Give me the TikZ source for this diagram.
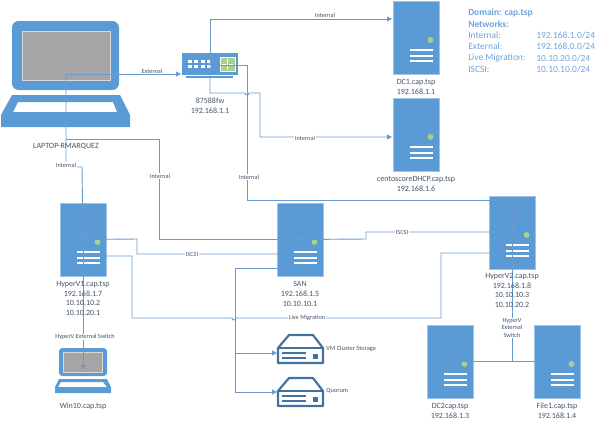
\documentclass[tikz,border=0pt]{standalone}
\usepackage{fontspec}
\setmainfont{Carlito}
\usetikzlibrary{arrows.meta}
\definecolor{ico}{HTML}{5B9BD5}
\definecolor{icodark}{HTML}{41719C}
\definecolor{wire}{HTML}{6A9BD0}
\definecolor{gdot}{HTML}{A9D18E}
\definecolor{scr}{HTML}{A5A5A5}
\definecolor{txt}{HTML}{44546A}
\definecolor{legend}{HTML}{6FA3DB}
\tikzset{
  x=0.75pt,y=-0.75pt,
  srvbox/.style={fill=ico,draw=ico!60!white,line width=0.4pt,minimum width=34.5pt,minimum height=54.5pt,inner sep=0pt},
  captxt/.style={text=txt,font=\fontsize{6}{7.2}\selectfont,align=center,inner sep=0pt},
  tagtxt/.style={text=txt,font=\fontsize{4.7}{5.7}\selectfont,align=center,fill=white,inner sep=0.6pt},
  stortxt/.style={text=txt,font=\fontsize{4.8}{6}\selectfont,anchor=west,inner sep=0pt},
  legtxt/.style={text=legend,font=\fontsize{7.1}{8.5}\selectfont,anchor=west,inner sep=0pt},
  wirepath/.style={draw=wire,line width=0.7pt},
  arr/.style={wirepath,-{Triangle[length=3.6pt,width=3.6pt]}},
}
\newcommand{\srv}[3]{%
  \node[srvbox] (#1) at (#2+23,#3+36.5) {};
  \fill[gdot] (#2+37.5,#3+39) circle[radius=2.2pt];
  \foreach \yy in {49,55,60}{\draw[white,line width=0.8pt] (#2+17,#3+\yy) -- (#2+40,#3+\yy);}
}
\newcommand{\stg}[3]{%
  \draw[icodark,line width=1.6pt,line join=round,fill=white] (#2+1,#3+29) -- (#2+1,#3+14) -- (#2+12,#3+1) -- (#2+36,#3+1) -- (#2+46,#3+14) -- (#2+46,#3+29) -- cycle;
  \draw[icodark,line width=1.2pt] (#2+1,#3+14) -- (#2+46,#3+14);
  \draw[icodark,line width=0.8pt] (#2+5,#3+19) -- (#2+29,#3+19) (#2+5,#3+24) -- (#2+29,#3+24);
  \fill[icodark] (#2+36,#3+20) rectangle (#2+41,#3+25);
  \node[inner sep=0pt,minimum size=0pt] (#1) at (#2+23,#3+15) {};
}
\begin{document}
\begin{tikzpicture}
\useasboundingbox (0,0) rectangle (600,425);
% big laptop
\fill[ico,rounded corners=5pt] (12,90) -- (12,21) -- (119,21) -- (119,90) -- cycle;
\draw[white!85!black,fill=scr,line width=0.5pt] (22,31) rectangle (110,80);
\fill[ico,even odd rule] (12,95) -- (120,95) -- (130,115) -- (130,127) -- (1,127) -- (1,115) -- cycle
  (18,102) -- (13,112) -- (117,112) -- (113,102) -- cycle;
\node[inner sep=0pt,minimum width=96pt,minimum height=78pt] (lap) at (66,74) {};
% small laptop
\fill[ico,rounded corners=2.5pt] (59,376) -- (59,348) -- (107,348) -- (107,376) -- cycle;
\draw[white!85!black,fill=scr,line width=0.4pt] (63,352) rectangle (102,372);
\fill[ico,even odd rule] (59,379) -- (107,379) -- (111,387) -- (111,393) -- (55,393) -- (55,387) -- cycle
  (61,382) -- (58,387) -- (107,387) -- (103,382) -- cycle;
\node[inner sep=0pt,minimum size=1pt] (win) at (83,370) {};
% switch
\node[fill=ico,inner sep=0pt,minimum width=42pt,minimum height=16.5pt] (sw) at (210,64) {};
\fill[gdot] (220,57) rectangle (235,71);
\draw[white,line width=0.4pt] (220,57) rectangle (235,71);
\draw[white,line width=0.5pt,-{Latex[length=1.5pt,width=1.5pt]}] (227.5,64) -- (227.5,58.5);
\draw[white,line width=0.5pt,-{Latex[length=1.5pt,width=1.5pt]}] (227.5,64) -- (227.5,70);
\draw[white,line width=0.5pt] (222,64) -- (226,64) (229,64) -- (233,64);
\foreach \xx in {190,196,203,209}{
  \fill[white] (\xx-2,60) rectangle (\xx+2,62.5);
  \fill[white] (\xx-2,65) rectangle (\xx+2,67.5);
}
\draw[ico,line width=1pt] (186,77) -- (233,77);
% servers
\srv{dcone}{393}{1}
\srv{cent}{393}{98}
\srv{hvone}{60}{203}
\srv{san}{277}{203}
\srv{hvtwo}{489}{196}
\srv{dctwo}{427}{325}
\srv{fil}{534}{325}
\stg{vm}{277}{334}
\stg{quo}{277}{377}
% coordinates
\coordinate (a1) at (66,74);
\coordinate (swin) at (181,74);
\coordinate (lapb) at (66,139);
\coordinate (dcin) at (392,19);
\coordinate (cin) at (392,137);
\coordinate (swc) at (210,65);
\coordinate (swr) at (220,65);
\coordinate (hv2in) at (512,232);
\coordinate (sanin) at (300,239);
\coordinate (stub) at (284,239);
\coordinate (hv1out) at (106,256);
\coordinate (lmin) at (489,253);
\coordinate (sanb) at (284,268);
\coordinate (j) at (512,361);
\coordinate (dcl) at (451,361);
\coordinate (fr) at (557,361);
\coordinate (vmin) at (277,353);
\coordinate (qin) at (277,392);
% connectors
\draw[arr] (a1) -- (swin);
\draw[arr] (a1) -- (66,167) -- (82,167) -- (hvone.center);
\draw[arr] (lapb) -- (159,139) -- (159,239) -- (sanin);
\draw[arr] (swc) -- (210,19) -- (dcin);
\draw[arr] (swc) -- (210,93) -- (245,93) arc[start angle=180,end angle=0,radius=2] -- (260,93) -- (260,137) -- (cin);
\draw[arr] (swr) -- (247,65) -- (247,200) -- (512,200) -- (hv2in);
\draw[arr] (stub) -- (284,254) -- (137,254) -- (137,239) -- (hvone.center);
\draw[arr] (san.center) -- (366,239) -- (366,232) -- (hv2in);
\draw[wirepath] (hv1out) -- (132,256) -- (132,318) -- (232,318) arc[start angle=180,end angle=0,radius=2] -- (441,318) -- (441,253) -- (lmin);
\draw[wirepath] (sanb) -- (235,268) -- (235,392);
\draw[arr] (235,353) -- (vmin);
\draw[arr] (235,392) -- (qin);
\draw[arr] (hvone.center) -- (win.center);
\draw[wirepath] (hv2in) -- (j);
\draw[arr] (j) -- (dcl);
\draw[arr] (j) -- (fr);
% connector labels
\node[tagtxt] at (152,71) {External};
\node[tagtxt] at (66,165) {Internal};
\node[tagtxt] at (160,176) {Internal};
\node[tagtxt] at (249,177) {Internal};
\node[tagtxt] at (325,15) {Internal};
\node[tagtxt] at (305,138) {Internal};
\node[tagtxt] at (192,254) {ISCSI};
\node[tagtxt] at (402,232) {ISCSI};
\node[tagtxt] at (307,318) {Live Migration};
\node[tagtxt] at (85,337) {HyperV External Switch};
\node[tagtxt] at (512,328) {HyperV\\External\\Switch};
% captions
\node[captxt] at (416,87) {DC1.cap.tsp\\192.168.1.1};
\node[captxt] at (416,184) {centoscoreDHCP.cap.tsp\\192.168.1.6};
\node[captxt] at (210,106) {87588fw\\192.168.1.1};
\node[captxt] at (66,146) {LAPTOP-RMARQUEZ};
\node[captxt] at (83,298.5) {HyperV1.cap.tsp\\192.168.1.7\\10.10.10.2\\10.10.20.1};
\node[captxt] at (300,294) {SAN\\192.168.1.5\\10.10.10.1};
\node[captxt] at (512,290.5) {HyperV2.cap.tsp\\192.168.1.8\\10.10.10.3\\10.10.20.2};
\node[captxt] at (450,411) {DC2cap.tsp\\192.168.1.3};
\node[captxt] at (557,411) {File1.cap.tsp\\192.168.1.4};
\node[captxt] at (83,406) {Win10.cap.tsp};
\node[stortxt] at (326,349) {VM Cluster Storage};
\node[stortxt] at (326,391) {Quorum};
% legend
\node[legtxt,font=\fontsize{7.1}{8.5}\selectfont\bfseries] at (468,13) {Domain: cap.tsp};
\node[legtxt,font=\fontsize{7.1}{8.5}\selectfont\bfseries] at (468,24) {Networks:};
\node[legtxt] at (468,35) {Internal:};
\node[legtxt] at (536,35) {192.168.1.0/24};
\node[legtxt] at (468,46.5) {External:};
\node[legtxt] at (536,46.5) {192.168.0.0/24};
\node[legtxt] at (468,58) {Live Migration:};
\node[legtxt] at (536,58) {10.10.20.0/24};
\node[legtxt] at (468,69) {ISCSI:};
\node[legtxt] at (536,69) {10.10.10.0/24};
\end{tikzpicture}
\end{document}
